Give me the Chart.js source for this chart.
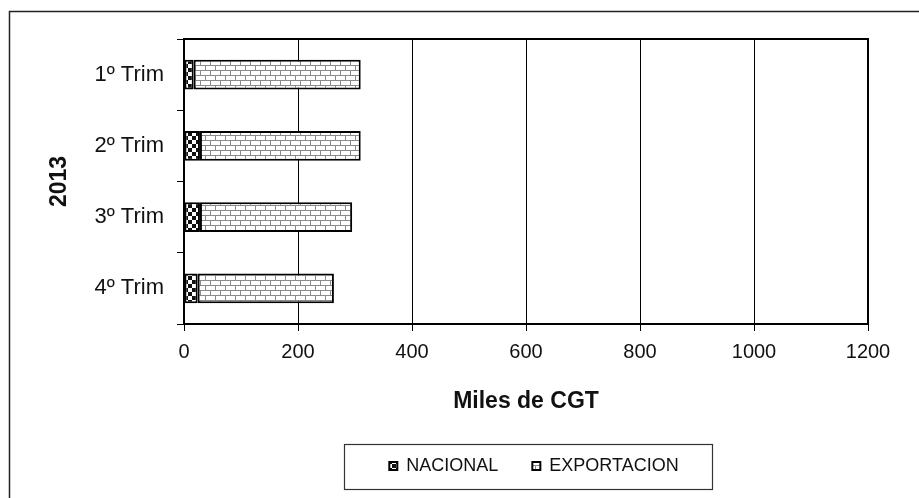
<!DOCTYPE html>
<html>
<head>
<meta charset="utf-8">
<script src="https://cdn.jsdelivr.net/npm/chart.js@4.4.0/dist/chart.umd.min.js"></script>
<style>
  html,body{margin:0;padding:0;background:#fff;}
  #wrap{width:919px;height:498px;}
</style>
</head>
<body>
<div id="wrap"><canvas id="cv" width="919" height="498"></canvas></div>
<script>
// datos (miles de CGT)
const trimestres = ["1º Trim","2º Trim","3º Trim","4º Trim"];
const nacional = [17, 28, 28, 24];
const exportacion = [293, 282, 267, 239];
const xTicks = [0, 200, 400, 600, 800, 1000, 1200];

const FONT = "'Liberation Sans', Arial, sans-serif";

// trama de damero para NACIONAL
function damero(){
    let p = document.createElement("canvas");
    p.width = 8; p.height = 8;
    let g = p.getContext("2d");
    g.fillStyle = "#fff"; g.fillRect(0,0,8,8);
    g.fillStyle = "#111";
    g.fillRect(0,0,4,4); g.fillRect(4,4,4,4);
    return g.createPattern(p,"repeat");
}
// trama de ladrillos para EXPORTACION
function ladrillos(){
    let p = document.createElement("canvas");
    p.width = 10; p.height = 10;
    let g = p.getContext("2d");
    g.fillStyle = "#fff"; g.fillRect(0,0,10,10);
    g.fillStyle = "#8a8a8a";
    g.fillRect(0,0,10,1); g.fillRect(0,5,10,1);
    g.fillRect(0,0,1,5); g.fillRect(5,5,1,5);
    return g.createPattern(p,"repeat");
}

const marcos = {
    id:"marcos",
    afterLayout(chart){
        // la leyenda del original esta algo desplazada a la derecha
        chart.legend.left += 8;
        chart.legend.right += 8;
    },
    beforeDraw(chart){
        let ctx = chart.ctx;
        ctx.save();
        ctx.fillStyle = "#fff";
        ctx.fillRect(0,0,chart.width,chart.height);
        ctx.strokeStyle = "#222";
        ctx.lineWidth = 1.5;
        ctx.strokeRect(9.5,11.5,chart.width+20,chart.height+20);
        ctx.restore();
    },
    afterDraw(chart){
        let ctx = chart.ctx, a = chart.chartArea;
        ctx.save();
        ctx.strokeStyle = "#000";
        ctx.lineWidth = 2;
        ctx.strokeRect(a.left,a.top,a.right-a.left,a.bottom-a.top);
        // recuadro de la leyenda
        let hb = chart.legend.legendHitBoxes;
        if(hb && hb.length){
            let first = hb[0], last = hb[hb.length-1];
            let cy = first.top + first.height/2;
            let x0 = Math.round(first.left-45);
            ctx.lineWidth = 1.2;
            ctx.strokeStyle = "#333";
            ctx.strokeRect(x0+0.5, Math.round(cy-22)+0.5,
                Math.round(last.left+last.width+33)-x0, 45);
        }
        ctx.restore();
    }
};

const ctx = document.getElementById("cv").getContext("2d");
new Chart(ctx,{
    type:"bar",
    data:{
        labels:trimestres,
        datasets:[
            {label:"NACIONAL",data:nacional,backgroundColor:damero(),borderColor:"#000",borderWidth:2,borderSkipped:false},
            {label:"EXPORTACION",data:exportacion,backgroundColor:ladrillos(),borderColor:"#000",borderWidth:2,borderSkipped:false}
        ]
    },
    options:{
        indexAxis:"y",
        responsive:false,
        animation:false,
        categoryPercentage:0.42,
        barPercentage:1,
        layout:{padding:{left:10,right:51,top:39,bottom:13}},
        scales:{
            x:{
                stacked:true,
                min:0,max:1200,
                afterBuildTicks(s){ s.ticks = xTicks.map(v=>({value:v})); },
                afterFit(s){ s.height = 99; },
                grid:{color:"#000",lineWidth:1,tickLength:7,drawOnChartArea:true},
                border:{color:"#000",width:2},
                ticks:{color:"#111",padding:9,font:{family:FONT,size:20},callback:v=>String(v)},
                title:{display:true,text:"Miles de CGT",color:"#111",
                    font:{family:FONT,size:23,weight:"bold"},padding:{top:0,bottom:8}}
            },
            y:{
                stacked:true,
                afterFit(s){ s.width = 174; },
                grid:{color:"#000",lineWidth:1,tickLength:7,drawOnChartArea:false,offset:true},
                border:{color:"#000",width:2},
                ticks:{color:"#111",padding:13,font:{family:FONT,size:22}},
                title:{display:true,text:"2013",color:"#111",
                    font:{family:FONT,size:23,weight:"bold"},padding:{top:36,bottom:0}}
            }
        },
        plugins:{
            tooltip:{enabled:false},
            legend:{
                position:"bottom",
                fullSize:false,
                labels:{color:"#111",boxWidth:8,boxHeight:8,padding:34,font:{family:FONT,size:18}}
            }
        }
    },
    plugins:[marcos]
});
</script>
</body>
</html>
